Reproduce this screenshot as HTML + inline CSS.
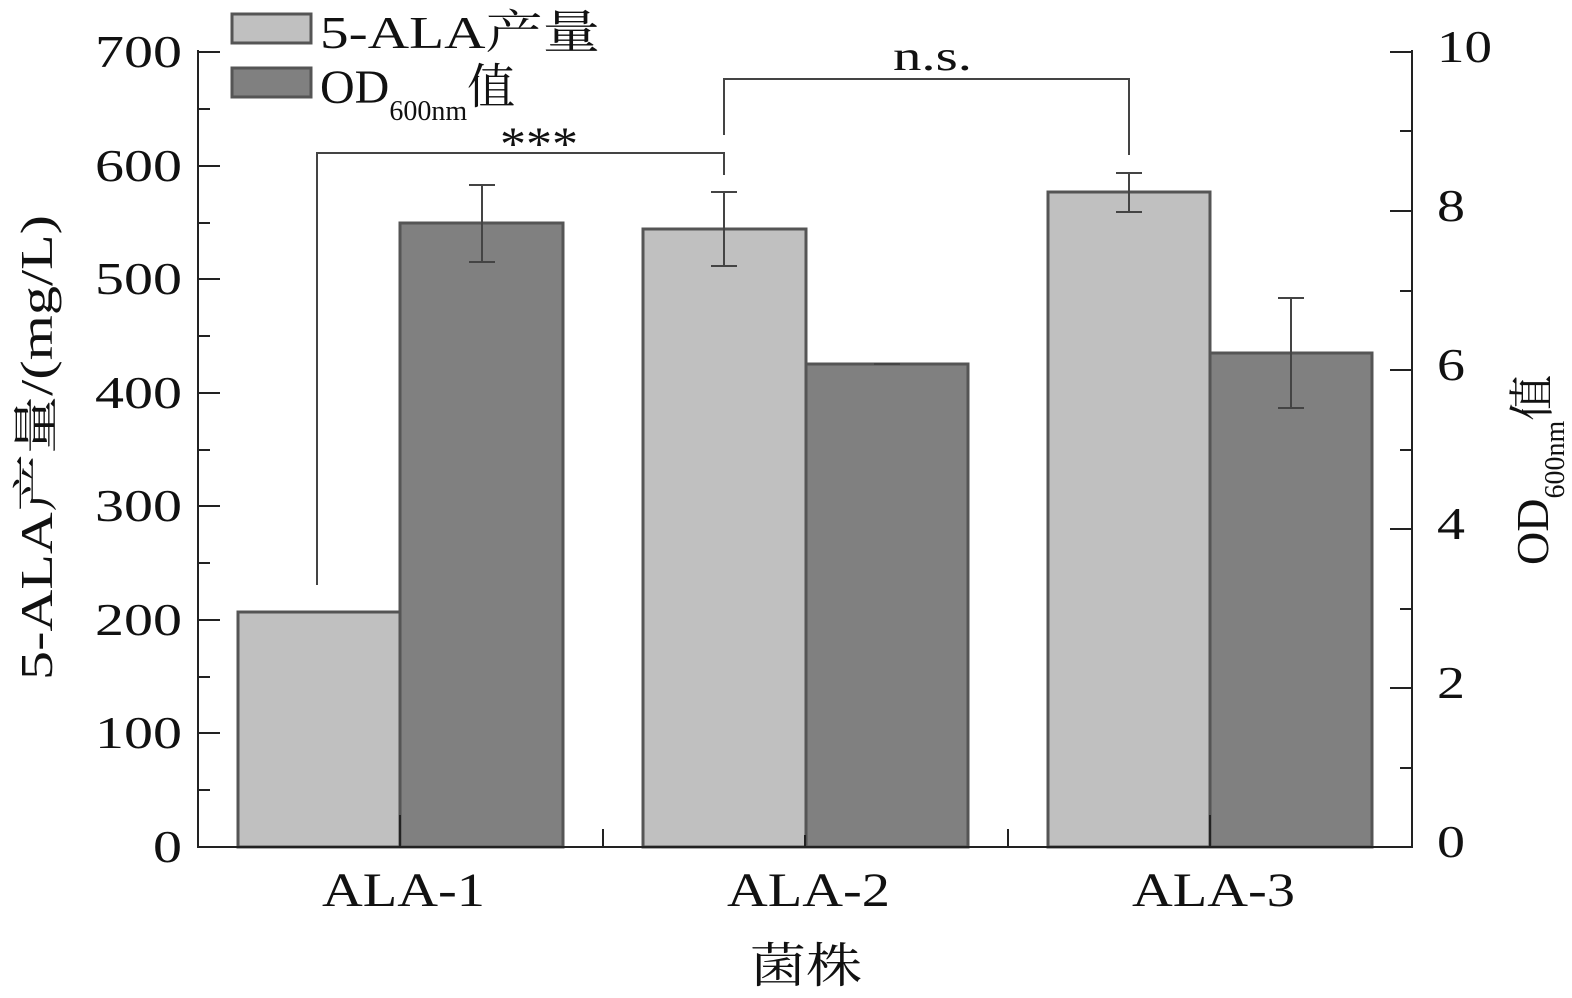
<!DOCTYPE html>
<html><head><meta charset="utf-8"><style>body{margin:0;background:#fff}</style></head><body>
<svg width="1572" height="993" viewBox="0 0 1572 993" xmlns="http://www.w3.org/2000/svg" font-family="Liberation Serif, Noto Serif CJK SC, serif" fill="#111">
<g stroke="#555" stroke-width="3">
<rect x="238" y="612" width="162" height="235" fill="#c0c0c0"/>
<rect x="400" y="223" width="163" height="624" fill="#808080"/>
<rect x="643" y="229" width="163" height="618" fill="#c0c0c0"/>
<rect x="806" y="364" width="162" height="483" fill="#808080"/>
<rect x="1048" y="192" width="162" height="655" fill="#c0c0c0"/>
<rect x="1210" y="353" width="162" height="494" fill="#808080"/>
</g>
<g stroke="#444" stroke-width="2" fill="none">
<path d="M482 185V262M469 185H495M469 262H495"/>
<path d="M724 192V266M711 192H737M711 266H737"/>
<path d="M874 364H900"/>
<path d="M1129 173V212M1116 173H1142M1116 212H1142"/>
<path d="M1291 298V408M1278 298H1304M1278 408H1304"/>
<path d="M317 585V153H724V175"/>
<path d="M724 135V79H1129V155"/>
</g>
<g stroke="#222" stroke-width="2" fill="none">
<path d="M198 50V847H1412V50"/>
<path d="M198 52H220M198 166H220M198 279H220M198 393H220M198 506H220M198 620H220M198 733H220"/>
<path d="M198 109H210M198 223H210M198 336H210M198 450H210M198 563H210M198 677H210M198 790H210"/>
<path d="M1412 52H1390M1412 211H1390M1412 370H1390M1412 529H1390M1412 688H1390"/>
<path d="M1412 131H1400M1412 291H1400M1412 450H1400M1412 609H1400M1412 768H1400"/>
<path d="M603 847V829M1008 847V829M400 847V815M805 847V835M1210 847V815"/>
</g>
<g font-size="46" lengthAdjust="spacingAndGlyphs">
<text x="95" y="67" textLength="87" lengthAdjust="spacingAndGlyphs">700</text>
<text x="95" y="181" textLength="87" lengthAdjust="spacingAndGlyphs">600</text>
<text x="95" y="294" textLength="87" lengthAdjust="spacingAndGlyphs">500</text>
<text x="95" y="408" textLength="87" lengthAdjust="spacingAndGlyphs">400</text>
<text x="95" y="521" textLength="87" lengthAdjust="spacingAndGlyphs">300</text>
<text x="95" y="635" textLength="87" lengthAdjust="spacingAndGlyphs">200</text>
<text x="95" y="748" textLength="87" lengthAdjust="spacingAndGlyphs">100</text>
<text x="153" y="862" textLength="29" lengthAdjust="spacingAndGlyphs">0</text>
</g>
<g font-size="46">
<text x="1437" y="62" textLength="55" lengthAdjust="spacingAndGlyphs">10</text>
<text x="1437" y="221" textLength="28" lengthAdjust="spacingAndGlyphs">8</text>
<text x="1437" y="380" textLength="28" lengthAdjust="spacingAndGlyphs">6</text>
<text x="1437" y="539" textLength="28" lengthAdjust="spacingAndGlyphs">4</text>
<text x="1437" y="698" textLength="28" lengthAdjust="spacingAndGlyphs">2</text>
<text x="1437" y="857" textLength="28" lengthAdjust="spacingAndGlyphs">0</text>
</g>
<g font-size="48">
<text x="322" y="906" textLength="163" lengthAdjust="spacingAndGlyphs">ALA-1</text>
<text x="727" y="906" textLength="163" lengthAdjust="spacingAndGlyphs">ALA-2</text>
<text x="1132" y="906" textLength="163" lengthAdjust="spacingAndGlyphs">ALA-3</text>
<text x="750" y="982" textLength="112" lengthAdjust="spacingAndGlyphs">菌株</text>
</g>
<text x="893" y="70" font-size="42" textLength="79" lengthAdjust="spacingAndGlyphs">n.s.</text>
<text x="500" y="160" font-size="48" textLength="78" lengthAdjust="spacingAndGlyphs">***</text>
<text transform="translate(52 680) rotate(-90)" font-size="46" textLength="465" lengthAdjust="spacingAndGlyphs">5-ALA产量/(mg/L)</text>
<text transform="translate(1548 565) rotate(-90)" font-size="46">OD<tspan font-size="28" dy="16">600nm</tspan><tspan dy="-16">值</tspan></text>
<rect x="232" y="14" width="79" height="29" fill="#c0c0c0" stroke="#555" stroke-width="3"/>
<rect x="232" y="68" width="79" height="29" fill="#808080" stroke="#555" stroke-width="3"/>
<text x="320" y="48" font-size="46" textLength="280" lengthAdjust="spacingAndGlyphs">5-ALA产量</text>
<text x="320" y="103" font-size="48">OD<tspan font-size="28" dy="17">600nm</tspan><tspan dy="-17">值</tspan></text>
</svg>
</body></html>
